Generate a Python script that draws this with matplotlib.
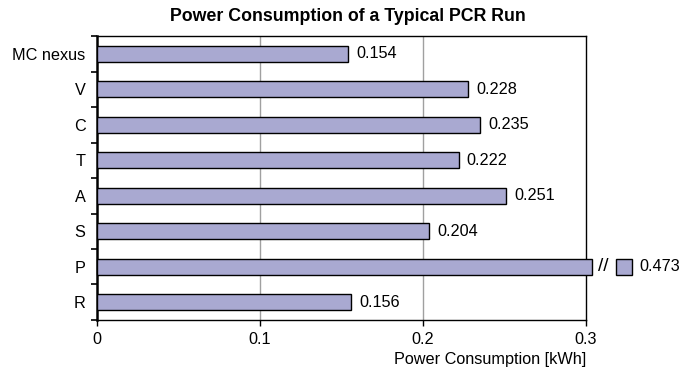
import matplotlib.pyplot as plt
import numpy as np

plt.rcParams["font.family"] = ["Liberation Sans", "DejaVu Sans"]

categories = ["MC nexus", "V", "C", "T", "A", "S", "P", "R"]
values = [0.154, 0.228, 0.235, 0.222, 0.251, 0.204, 0.473, 0.156]
x_ticks = [0, 0.1, 0.2, 0.3]
x_tick_labels = ["0", "0.1", "0.2", "0.3"]

XMAX = 0.3
BAR_COLOR = "#a9a9d1"
FS = 11.7


def plot_chart():
    fig = plt.figure(figsize=(7, 3.8), dpi=100)
    ax = fig.add_axes([0.138, 0.158, 0.699, 0.747])

    y = np.arange(len(categories))
    for yi, v in zip(y, values):
        if v <= XMAX:
            ax.barh(yi, v, height=0.46, color=BAR_COLOR, edgecolor="black",
                    linewidth=1, zorder=3)
            ax.text(v + 0.005, yi, f"{v:.3f}", va="center", ha="left",
                    fontsize=FS)
        else:
            # broken bar: runs slightly past the frame, then a short stub
            ax.barh(yi, XMAX + 0.004, height=0.46, color=BAR_COLOR,
                    edgecolor="black", linewidth=1, zorder=3, clip_on=False)
            ax.text(XMAX + 0.0105, yi, "//", va="center", ha="center",
                    fontsize=FS + 2, clip_on=False)
            ax.barh(yi, 0.0095, left=XMAX + 0.0185, height=0.46,
                    color=BAR_COLOR, edgecolor="black", linewidth=1,
                    zorder=3, clip_on=False)
            ax.text(XMAX + 0.033, yi, f"{v:.3f}", va="center", ha="left",
                    fontsize=FS, clip_on=False)

    ax.set_xlim(0, XMAX)
    ax.set_ylim(len(categories) - 0.5, -0.5)
    ax.set_xticks(x_ticks)
    ax.set_xticklabels(x_tick_labels, fontsize=FS)

    # category labels centred on bars, tick marks on the boundaries
    ax.set_yticks(y)
    ax.set_yticklabels(categories, fontsize=FS)
    ax.tick_params(axis="y", which="major", length=0, pad=8)
    ax.set_yticks(np.arange(len(categories) + 1) - 0.5, minor=True)
    ax.tick_params(axis="y", which="minor", length=4, width=1.2,
                   direction="out")
    ax.tick_params(axis="x", length=4, width=1, direction="out", pad=5)

    for xv in x_ticks[1:-1]:
        ax.axvline(xv, color="#a0a0a0", linewidth=1, zorder=1)

    for side in ["top", "right", "bottom"]:
        ax.spines[side].set_linewidth(1)
    ax.spines["left"].set_linewidth(1.8)

    ax.set_xlabel("Power Consumption [kWh]", fontsize=FS, loc="right",
                  labelpad=3)
    fig.suptitle("Power Consumption of a Typical PCR Run", fontsize=12.8,
                 fontweight="bold", x=0.497, y=0.978)

    fig.savefig("out.png", dpi=100)


def main():
    plot_chart()


if __name__ == "__main__":
    main()
